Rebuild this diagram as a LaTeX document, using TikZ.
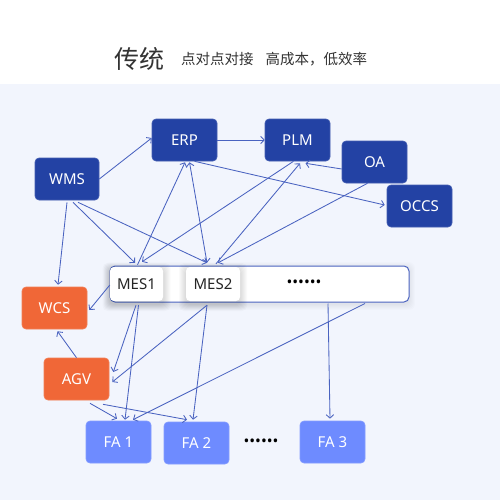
\documentclass[tikz,border=0pt]{standalone}
\usepackage{fontspec}
\setmainfont{Noto Sans}
\newfontfamily\cjk{Noto Sans CJK SC}
\usetikzlibrary{arrows.meta,calc}
\definecolor{dk}{HTML}{2342A4}
\definecolor{org}{HTML}{F06737}
\definecolor{fab}{HTML}{6E8BFF}
\definecolor{bgb}{HTML}{F2F5FD}
\definecolor{ln}{HTML}{4A63C0}
\definecolor{ttl}{HTML}{333333}
\begin{document}
\begin{tikzpicture}[x=1pt,y=1pt,
  box/.style={rounded corners=4pt, minimum width=65pt, minimum height=42pt, inner sep=0pt, text=white, font=\fontsize{15}{16}\selectfont},
  dkbox/.style={box, fill=dk, draw=dk!85!white, line width=0.6pt},
  orbox/.style={box, fill=org, draw=org!85!white, line width=0.6pt},
  fabox/.style={box, fill=fab, draw=fab!85!white, line width=0.6pt},
  mesbox/.style={rounded corners=4pt, fill=white, minimum width=53pt, minimum height=34pt, inner sep=0pt, text=black!85, font=\fontsize{15}{16}\selectfont},
  dots/.style={inner sep=0pt, text=black, font=\fontsize{15.5}{16}\selectfont},
  link/.style={draw=ln, line width=0.85pt, -{Straight Barb[length=3.5pt,width=7.5pt]}},
  blink/.style={link, {Straight Barb[length=3.5pt,width=7.5pt]}-{Straight Barb[length=3.5pt,width=7.5pt]}},
]
\fill[white] (0,0) rectangle (500,-84);
\fill[bgb] (0,-84) rectangle (500,-500);
\useasboundingbox (0,0) rectangle (500,-500);

% title
\node[inner sep=0pt, text=ttl] (title) at (139,-59) {\cjk\fontsize{25}{28}\selectfont 传统};
\node[inner sep=0pt, anchor=west, text=ttl] (sub) at (181,-59) {\cjk\fontsize{14.5}{16}\selectfont 点对点对接\hspace{12pt}高成本，低效率};

% upper systems
\node[dkbox] (erp) at (184.5,-140) {ERP};
\node[dkbox] (plm) at (297.5,-140) {PLM};
\node[dkbox] (oa) at (374.5,-162) {OA};
\node[dkbox] (occs) at (419.5,-206) {OCCS};
\node[dkbox, minimum width=64pt] (wms) at (67,-179) {WMS};

% long MES bar with shadow
\foreach \i in {1,...,6}{
  \fill[black, opacity=0.012, rounded corners=6pt] (110-\i,-266+\i-2) rectangle (409+\i,-302-\i-2);
}
\node[draw=ln, line width=1pt, fill=white, rounded corners=5pt, minimum width=299pt, minimum height=36pt, inner sep=0pt] (bar) at (259.5,-284) {};
% MES shadows
\foreach \cx in {136.5,213}{
  \foreach \i in {1,...,7}{
    \fill[black, opacity=0.02, rounded corners=5pt] (\cx-27-\i,-267+\i-3) rectangle (\cx+27+\i,-301-\i-3);
  }
}
\node[mesbox] (mes1) at (136.5,-284) {MES1};
\node[mesbox, minimum width=54pt] (mes2) at (213,-284) {MES2};
\node[dots] (bardots) at (304,-284) {••••••};

% lower systems
\node[orbox] (wcs) at (54.5,-308) {WCS};
\node[orbox] (agv) at (76.5,-379) {AGV};
\node[fabox] (fa1) at (118.5,-442) {FA 1};
\node[fabox] (fa2) at (196.5,-443) {FA 2};
\node[fabox] (fa3) at (332.5,-442) {FA 3};
\node[dots] (fadots) at (261,-443) {••••••};

% connectors
\draw[link] (wms.east) -- ([yshift=2pt]erp.west);
\draw[link] (erp.east) -- (plm.west);
\draw[link] ([yshift=-7pt]oa.west) -- ([xshift=8pt,yshift=-2pt]plm.south);
\draw[link] ([xshift=10pt]erp.south) -- ([xshift=-2pt,yshift=1pt]occs.west);
\draw[link] ([xshift=1pt,yshift=2pt]mes1.north) -- ([xshift=0.5pt,yshift=-1pt]erp.south);
\draw[blink] ([xshift=5pt,yshift=-1pt]erp.south) -- ([xshift=-6pt,yshift=4pt]mes2.north);
\draw[link] ([xshift=-4pt]plm.south) -- ([xshift=5.5pt,yshift=5pt]mes1.north);
\draw[link] ([xshift=3pt,yshift=3pt]mes2.north) -- ([xshift=2.5pt,yshift=-2pt]plm.south);
\draw[link] ([xshift=-7pt]oa.south) -- ([xshift=5pt,yshift=4pt]mes2.north);

\draw[link] ([yshift=-2pt]wms.south) -- ([xshift=3.5pt,yshift=2pt]wcs.north);
\draw[link] ([xshift=6pt,yshift=-2pt]wms.south) -- ([xshift=-1.5pt,yshift=4pt]mes1.north);
\draw[link] ([xshift=11pt,yshift=-2pt]wms.south) -- ([xshift=-6pt,yshift=4pt]mes2.north);

\draw[link] ([yshift=-1pt]mes1.west) -- ([xshift=2pt,yshift=-2pt]wcs.east);
\draw[link] (agv.north) -- ([xshift=3pt,yshift=-2pt]wcs.south);
\draw[link] ([xshift=-0.5pt,yshift=-4pt]mes1.south) -- ([xshift=4pt,yshift=7pt]agv.east);
\draw[link] ([xshift=2pt,yshift=-4pt]mes1.south) -- ([xshift=6.5pt,yshift=1pt]fa1.north);
\draw[link] ([xshift=-6pt,yshift=-4pt]mes2.south) -- ([xshift=3pt,yshift=-3pt]agv.east);
\draw[link] ([xshift=-6pt,yshift=-4pt]mes2.south) -- ([xshift=-3.5pt,yshift=2pt]fa2.north);
\draw[link] ([xshift=105.5pt,yshift=-1pt]bar.south) -- ([xshift=14.5pt,yshift=1pt]fa1.north);
\draw[link] ([xshift=68.5pt,yshift=-1pt]bar.south) -- ([xshift=-2.5pt,yshift=2pt]fa3.north);
\draw[link] ([xshift=13.5pt,yshift=-3pt]agv.south) -- ([xshift=-1.5pt,yshift=2pt]fa1.north);
\draw[link] ([xshift=26.5pt,yshift=-4pt]agv.south) -- ([xshift=-9.5pt,yshift=2pt]fa2.north);
\end{tikzpicture}
\end{document}
